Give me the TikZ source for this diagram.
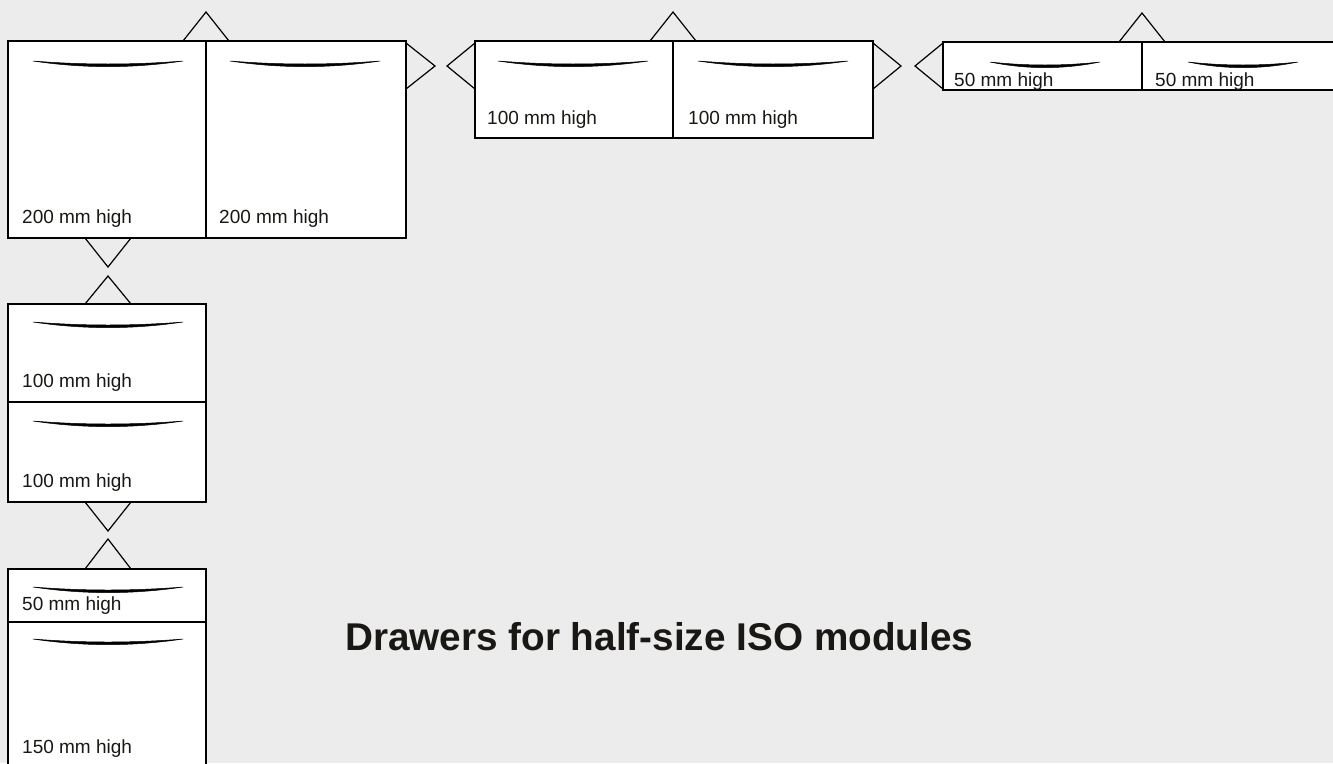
\documentclass[tikz,border=0pt]{standalone}
\usepackage{fontspec}
\setmainfont{Liberation Sans}
\definecolor{bgGray}{RGB}{236,236,236}
\definecolor{inkBlack}{RGB}{26,24,20}

\begin{document}
\begin{tikzpicture}[
    x=1pt, y=-1pt,
    drawer/.style={draw=black, fill=white, line width=2.2pt},
    divider/.style={draw=black, line width=1.6pt},
    flap/.style={draw=black, line width=1.2pt, line join=miter},
    sizeLabel/.style={anchor=base west, inner sep=0pt, text=inkBlack, font=\fontsize{19}{21}\selectfont},
    title/.style={anchor=base west, inner sep=0pt, text=inkBlack, font=\fontsize{38.7}{42}\selectfont\bfseries},
    handlebar/.pic={
        \filldraw[black, line width=0.5pt] (0,0) .. controls (50,7.5) and (100,7.5) .. (150,0)
            .. controls (100,4) and (50,4) .. (0,0) -- cycle;
    }
]
% -------------------------
% Background
% -------------------------
    \fill[bgGray] (0,0) rectangle (1333,763);
    \clip (0,0) rectangle (1333,763);

% -------------------------
% Drawer bodies
% -------------------------
    \draw[drawer] (8,41) rectangle (406,238);    % 200 mm pair
    \draw[divider] (206,41) -- (206,238);
    \draw[drawer] (475,41) rectangle (873,138);  % 100 mm pair
    \draw[divider] (673,41) -- (673,138);
    \draw[drawer] (943,42) rectangle (1341,90);  % 50 mm pair
    \draw[divider] (1142,42) -- (1142,90);
    \draw[drawer] (8,304) rectangle (206,502);   % 100 + 100 stack
    \draw[divider] (8,402) -- (206,402);
    \draw[drawer] (8,569) rectangle (206,770);   % 50 + 150 stack
    \draw[divider] (8,622) -- (206,622);

% -------------------------
% Flaps (open triangles)
% -------------------------
    \draw[flap] (183,41) -- (206,12) -- (229,41);
    \draw[flap] (406,43) -- (435,66) -- (406,89);
    \draw[flap] (475,43) -- (447,66) -- (475,89);
    \draw[flap] (650,41) -- (673,12) -- (696,41);
    \draw[flap] (873,43) -- (901,66) -- (873,89);
    \draw[flap] (943,43) -- (915,66) -- (943,89);
    \draw[flap] (1119,42) -- (1142,13) -- (1165,42);
    \draw[flap] (85,238) -- (108,267) -- (131,238);
    \draw[flap] (85,304) -- (108,276) -- (131,304);
    \draw[flap] (85,502) -- (108,531) -- (131,502);
    \draw[flap] (85,569) -- (108,539) -- (131,569);

% -------------------------
% Handles
% -------------------------
    \pic at (33,61) {handlebar};
    \pic at (230,61) {handlebar};
    \pic at (498,61) {handlebar};
    \pic at (698,61) {handlebar};
    \pic[xscale=0.733] at (990,62) {handlebar};
    \pic[xscale=0.733] at (1188,62) {handlebar};
    \pic at (33,322) {handlebar};
    \pic at (33,421) {handlebar};
    \pic at (33,587) {handlebar};
    \pic at (33,639) {handlebar};

% -------------------------
% Labels
% -------------------------
    \node[sizeLabel] (h200a) at (22,223) {200 mm high};
    \node[sizeLabel] (h200b) at (219,223) {200 mm high};
    \node[sizeLabel] (h100a) at (487,124) {100 mm high};
    \node[sizeLabel] (h100b) at (688,124) {100 mm high};
    \node[sizeLabel] (h50a) at (954,86) {50 mm high};
    \node[sizeLabel] (h50b) at (1155,86) {50 mm high};
    \node[sizeLabel] (h100c) at (22,387) {100 mm high};
    \node[sizeLabel] (h100d) at (22,487) {100 mm high};
    \node[sizeLabel] (h50c) at (22,610) {50 mm high};
    \node[sizeLabel] (h150) at (22,753) {150 mm high};

    \node[title] (heading) at (345,650) {Drawers for half-size ISO modules};
\end{tikzpicture}
\end{document}
